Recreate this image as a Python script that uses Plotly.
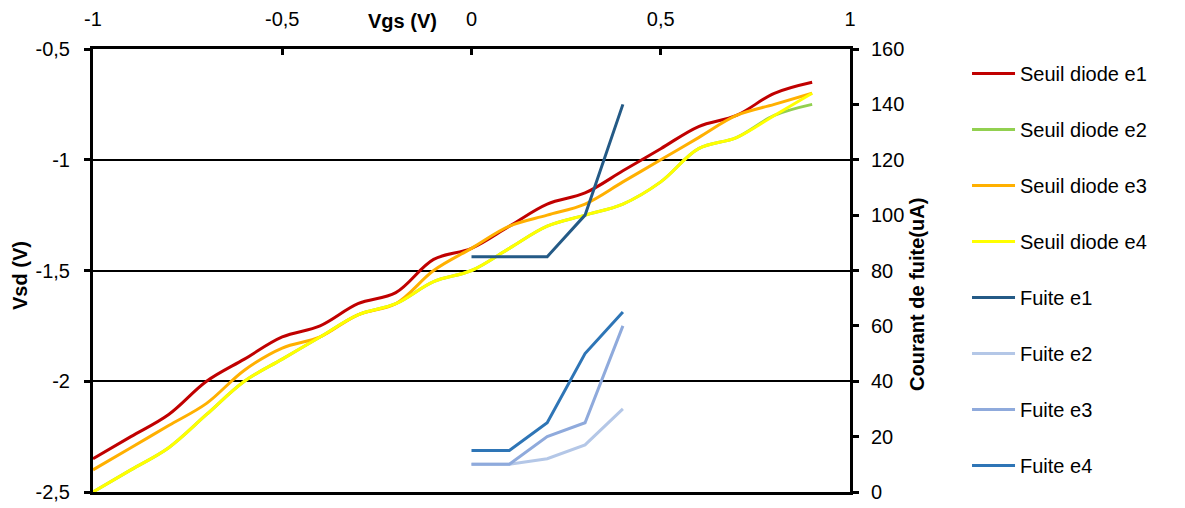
import plotly.graph_objects as go

vgs = [-1.0, -0.9, -0.8, -0.7, -0.6, -0.5, -0.4, -0.3, -0.2, -0.1,
       0.0, 0.1, 0.2, 0.3, 0.4, 0.5, 0.6, 0.7, 0.8, 0.9]
seuil_e1 = [-2.35, -2.25, -2.15, -2.0, -1.9, -1.8, -1.75, -1.65, -1.6, -1.45,
            -1.4, -1.3, -1.2, -1.15, -1.05, -0.95, -0.85, -0.8, -0.7, -0.65]
seuil_e2 = [-2.5, -2.4, -2.3, -2.15, -2.0, -1.9, -1.8, -1.7, -1.65, -1.55,
            -1.5, -1.4, -1.3, -1.25, -1.2, -1.1, -0.95, -0.9, -0.8, -0.75]
seuil_e3 = [-2.4, -2.3, -2.2, -2.1, -1.95, -1.85, -1.8, -1.7, -1.65, -1.5,
            -1.4, -1.3, -1.25, -1.2, -1.1, -1.0, -0.9, -0.8, -0.75, -0.7]
seuil_e4 = [-2.5, -2.4, -2.3, -2.15, -2.0, -1.9, -1.8, -1.7, -1.65, -1.55,
            -1.5, -1.4, -1.3, -1.25, -1.2, -1.1, -0.95, -0.9, -0.8, -0.7]

vgs_fuite = [0.0, 0.1, 0.2, 0.3, 0.4]
fuite_e1 = [85, 85, 85, 100, 140]
fuite_e2 = [10, 10, 12, 17, 30]
fuite_e3 = [10, 10, 20, 25, 60]
fuite_e4 = [15, 15, 25, 50, 65]

x_ticks = [-1, -0.5, 0, 0.5, 1]
x_ticktext = ["-1", "-0,5", "0", "0,5", "1"]
y_ticks = [-2.5, -2, -1.5, -1, -0.5]
y_ticktext = ["-2,5", "-2", "-1,5", "-1", "-0,5"]
y2_ticks = [0, 20, 40, 60, 80, 100, 120, 140, 160]

FONT = "Liberation Sans, Arial, sans-serif"

fig = go.Figure()

seuil = [
    ("Seuil diode e1", seuil_e1, "#C00000"),
    ("Seuil diode e2", seuil_e2, "#92D050"),
    ("Seuil diode e3", seuil_e3, "#FFB000"),
    ("Seuil diode e4", seuil_e4, "#FFFF00"),
]
for i, (name, ys, col) in enumerate(seuil):
    fig.add_trace(go.Scatter(x=vgs, y=ys, name=name, mode="lines",
                             line=dict(color=col, width=3, shape="spline", smoothing=1),
                             legendgroup=f"g{i}", yaxis="y"))

fuite = [
    ("Fuite e1", fuite_e1, "#245A86"),
    ("Fuite e2", fuite_e2, "#B4C7E7"),
    ("Fuite e3", fuite_e3, "#8FAADC"),
    ("Fuite e4", fuite_e4, "#2E75B6"),
]
for i, (name, ys, col) in enumerate(fuite):
    fig.add_trace(go.Scatter(x=vgs_fuite, y=ys, name=name, mode="lines",
                             line=dict(color=col, width=3),
                             legendgroup=f"f{i}", yaxis="y2"))

fig.update_layout(
    width=1177, height=500,
    margin=dict(l=85, r=335, t=41, b=16, autoexpand=False),
    paper_bgcolor="white", plot_bgcolor="white",
    font=dict(family=FONT, size=20, color="black"),
    showlegend=True,
    legend=dict(xref="container", yref="container", x=0.8148, y=0.908,
                xanchor="left", yanchor="top", itemwidth=43,
                font=dict(family=FONT, size=20, color="black"),
                tracegroupgap=27, maxheight=1.0),
    xaxis=dict(range=[-1, 1], side="top", tickvals=x_ticks, ticktext=x_ticktext,
               showline=True, linecolor="black", linewidth=3, mirror=True,
               ticks="inside", ticklen=6, tickwidth=3, tickcolor="black",
               showgrid=False, zeroline=False, ticklabelstandoff=12,
               automargin=False, tickfont=dict(size=20)),
    yaxis=dict(range=[-2.5, -0.5], tickvals=y_ticks, ticktext=y_ticktext,
               showline=True, linecolor="black", linewidth=3,
               ticks="outside", ticklen=6, tickwidth=3, tickcolor="black",
               showgrid=True, gridcolor="black", gridwidth=2, zeroline=False,
               ticklabelstandoff=10, automargin=False, tickfont=dict(size=20)),
    yaxis2=dict(range=[0, 160], tickvals=y2_ticks, overlaying="y", side="right",
                showline=True, linecolor="black", linewidth=3,
                ticks="outside", ticklen=6, tickwidth=3, tickcolor="black",
                showgrid=False, zeroline=False, ticklabelstandoff=8,
                automargin=False, tickfont=dict(size=20)),
    annotations=[
        dict(text="<b>Vgs (V)</b>", xref="paper", yref="paper",
             x=0.4095, y=1.0632, xanchor="center", yanchor="middle",
             showarrow=False, font=dict(family=FONT, size=20, color="black")),
        dict(text="<b>Vsd (V)</b>", xref="paper", yref="paper",
             x=-0.0964, y=0.4876, xanchor="center", yanchor="middle", textangle=-90,
             showarrow=False, font=dict(family=FONT, size=20, color="black")),
        dict(text="<b>Courant de fuite(uA)</b>", xref="paper", yref="paper",
             x=1.0885, y=0.447, xanchor="center", yanchor="middle", textangle=-90,
             showarrow=False, font=dict(family=FONT, size=20, color="black")),
    ],
)

fig.write_html("out.html")
